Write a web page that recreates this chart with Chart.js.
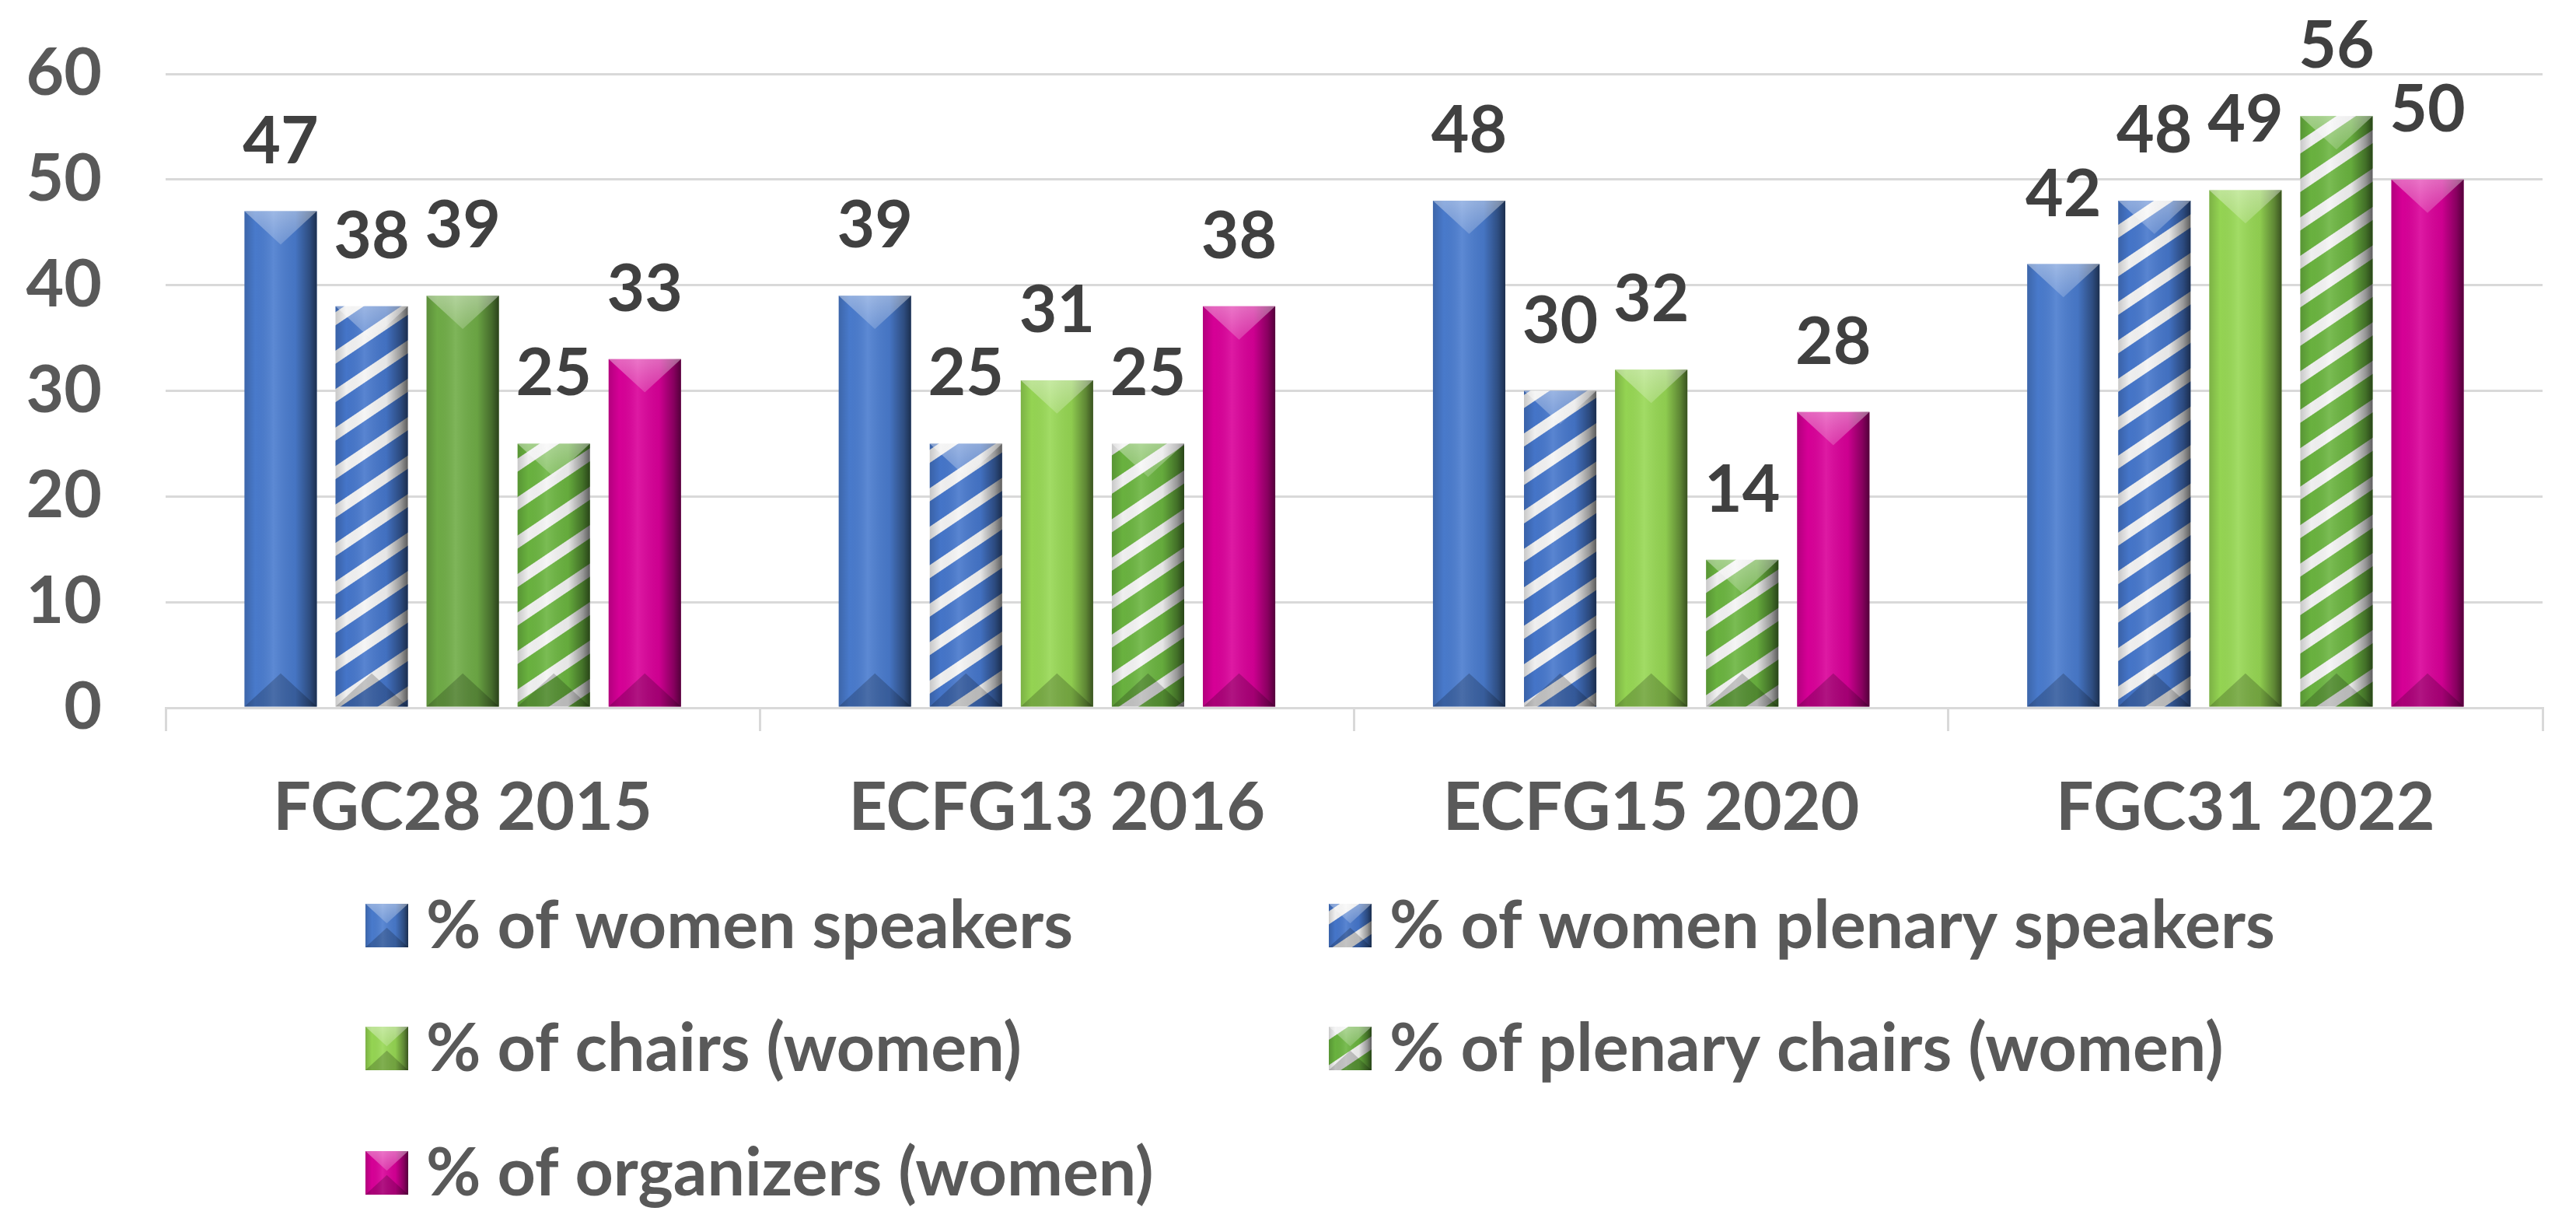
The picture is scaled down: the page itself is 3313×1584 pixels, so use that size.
<!DOCTYPE html>
<html>
<head>
<meta charset="utf-8">
<script src="https://cdn.jsdelivr.net/npm/chart.js@4.4.1/dist/chart.umd.min.js"></script>
<style>
html, body { margin: 0; padding: 0; background: #fff; overflow: hidden; }
#chart { display: block; }
</style>
</head>
<body>
<canvas id="chart" width="3313" height="1584"></canvas>
<script>
// data
const categories = ['FGC28 2015', 'ECFG13 2016', 'ECFG15 2020', 'FGC31 2022'];
const seriesNames = [
  '% of women speakers',
  '% of women plenary speakers',
  '% of chairs (women)',
  '% of plenary chairs (women)',
  '% of organizers (women)'
];
const womenSpeakers   = [47, 39, 48, 42];
const plenarySpeakers = [38, 25, 30, 48];
const chairs          = [39, 31, 32, 49];
const plenaryChairs   = [25, 25, 14, 56];
const organizers      = [33, 38, 28, 50];
const yMin = 0, yMax = 60, yStep = 10;

const FONT = 'Lato, "Open Sans", sans-serif';

function stripes(color) {
  const c = document.createElement('canvas');
  c.width = 8; c.height = 41;
  const g = c.getContext('2d');
  g.fillStyle = color;
  g.fillRect(0, 0, 8, 41);
  g.fillStyle = '#f4f4f4';
  g.fillRect(0, 0, 8, 14);
  const p = g.createPattern(c, 'repeat');
  p.setTransform(new DOMMatrix().rotateSelf(-34));
  return p;
}

const blue = '#4a7ccf';
const blueStripe = stripes('#4677cc');
const greenDark = '#70ad47';
const greenLight = '#97d854';
const greenStripe = stripes('#6bb540');
const magenta = '#da0099';

// fake excel bevel on top of a filled rect
function bevel(ctx, l, t, r, b) {
  const w = r - l, h = b - t, cx = (l + r) / 2;
  const d = Math.min(w * 0.46, h / 2);
  ctx.save();
  let g = ctx.createLinearGradient(l, 0, r, 0);
  g.addColorStop(0, 'rgba(0,0,0,0.18)');
  g.addColorStop(0.15, 'rgba(0,0,0,0.02)');
  g.addColorStop(0.4, 'rgba(255,255,255,0.10)');
  g.addColorStop(0.7, 'rgba(0,0,0,0.06)');
  g.addColorStop(0.9, 'rgba(0,0,0,0.38)');
  g.addColorStop(1, 'rgba(0,0,0,0.62)');
  ctx.fillStyle = g;
  ctx.fillRect(l, t, w, h);

  ctx.beginPath();
  ctx.moveTo(l, t); ctx.lineTo(r, t); ctx.lineTo(cx, t + d); ctx.closePath();
  g = ctx.createLinearGradient(0, t, 0, t + d);
  g.addColorStop(0, 'rgba(255,255,255,0.40)');
  g.addColorStop(1, 'rgba(255,255,255,0.18)');
  ctx.fillStyle = g;
  ctx.fill();

  ctx.beginPath();
  ctx.moveTo(l, b); ctx.lineTo(r, b); ctx.lineTo(cx, b - d); ctx.closePath();
  ctx.fillStyle = 'rgba(0,0,0,0.2)';
  ctx.fill();
  ctx.restore();
}

const barLook = {
  id: 'barLook',
  afterDatasetsDraw(chart) {
    const ctx = chart.ctx;
    chart.data.datasets.forEach((ds, i) => {
      const meta = chart.getDatasetMeta(i);
      meta.data.forEach((el, j) => {
        const p = el.getProps(['x', 'y', 'base', 'width'], true);
        bevel(ctx, p.x - p.width / 2, p.y, p.x + p.width / 2, p.base);
        ctx.save();
        ctx.font = 'bold 84px ' + FONT;
        ctx.fillStyle = '#404040';
        ctx.textAlign = 'center';
        ctx.textBaseline = 'alphabetic';
        ctx.fillText(String(ds.data[j]), p.x, p.y - 62);
        ctx.restore();
      });
    });
  }
};

// two column legend under the axis
const legendSpots = [[470, 1162], [1709, 1162], [470, 1320], [1709, 1320], [470, 1480]];
const legendSwatch = [blue, blueStripe, greenLight, greenStripe, magenta];
const gridLegend = {
  id: 'gridLegend',
  afterDraw(chart) {
    const ctx = chart.ctx;
    chart.data.datasets.forEach((ds, i) => {
      const [x, y] = legendSpots[i];
      ctx.save();
      ctx.fillStyle = legendSwatch[i];
      ctx.fillRect(x, y, 55, 56);
      bevel(ctx, x, y, x + 55, y + 56);
      ctx.font = 'bold 86px ' + FONT;
      ctx.fillStyle = '#595959';
      ctx.textAlign = 'left';
      ctx.textBaseline = 'alphabetic';
      ctx.fillText(ds.label, x + 78, y + 57);
      ctx.restore();
    });
  }
};

const barOpts = { borderWidth: 0, categoryPercentage: 0.766, barPercentage: 0.795 };

new Chart(document.getElementById('chart'), {
  type: 'bar',
  data: {
    labels: categories,
    datasets: [
      Object.assign({ label: seriesNames[0], data: womenSpeakers, backgroundColor: blue }, barOpts),
      Object.assign({ label: seriesNames[1], data: plenarySpeakers, backgroundColor: blueStripe }, barOpts),
      Object.assign({ label: seriesNames[2], data: chairs, backgroundColor: [greenDark, greenLight, greenLight, greenLight] }, barOpts),
      Object.assign({ label: seriesNames[3], data: plenaryChairs, backgroundColor: greenStripe }, barOpts),
      Object.assign({ label: seriesNames[4], data: organizers, backgroundColor: magenta }, barOpts)
    ]
  },
  options: {
    responsive: false,
    devicePixelRatio: 1,
    animation: false,
    layout: { padding: { top: 95, right: 43, left: 0, bottom: 474 } },
    plugins: {
      legend: { display: false },
      tooltip: { enabled: false }
    },
    scales: {
      x: {
        afterFit(scale) { scale.height = 200; },
        grid: {
          offset: true,
          drawOnChartArea: false,
          drawTicks: true,
          tickLength: 30,
          color: '#d9d9d9',
          lineWidth: 3
        },
        border: { display: true, color: '#d9d9d9', width: 3 },
        ticks: {
          padding: 48,
          color: '#595959',
          font: { family: FONT, size: 86, weight: 'bold' }
        }
      },
      y: {
        min: yMin,
        max: yMax,
        afterFit(scale) { scale.width = 213; },
        // invisible tick marks give the gap to the labels without
        // the extra top padding that ticks.padding would add
        grid: { color: '#d9d9d9', lineWidth: 3, drawTicks: true, tickLength: 82, tickColor: 'rgba(0,0,0,0)' },
        border: { display: false },
        ticks: {
          stepSize: yStep,
          padding: 0,
          color: '#595959',
          font: { family: FONT, size: 84, weight: 'bold' }
        }
      }
    }
  },
  plugins: [barLook, gridLegend]
});
</script>
</body>
</html>
